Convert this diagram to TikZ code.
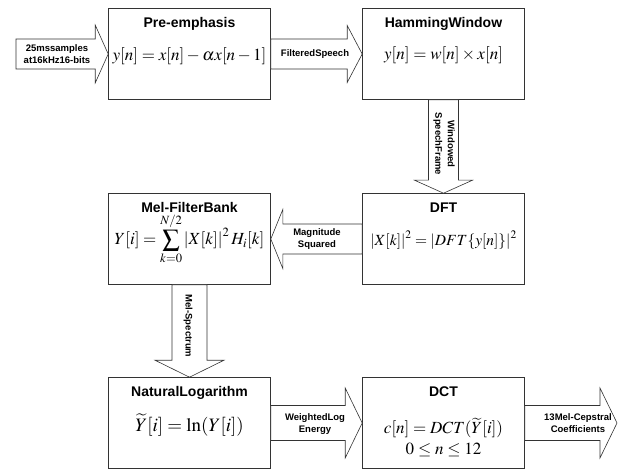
\documentclass[tikz,border=0pt]{standalone}
\usepackage{mathptmx}
\usepackage{fontspec}
\setmainfont{Liberation Serif}
\setsansfont{Liberation Sans}
\usetikzlibrary{calc}

\begin{document}
\begin{tikzpicture}[x=1pt,y=-1pt,
	box/.style={rectangle,draw=black!80,line width=.6pt,minimum width=162pt,minimum height=91pt,inner sep=0pt},
	ttl/.style={anchor=north,yshift=-9pt,inner sep=0pt,font=\fontsize{14}{16}\selectfont\sffamily\bfseries},
	eq/.style={inner sep=0pt,align=center,font=\fontsize{17}{21}\selectfont},
	lbl/.style={inner sep=0pt,align=center,font=\fontsize{9.5}{12.5}\selectfont\sffamily\bfseries},
	fat/.style n args={3}{draw=black!80,line width=.6pt,fill=white,line join=miter,
		to path={let \p1=($(\tikztotarget)!#3!(\tikztostart)$) in
			($(\tikztostart)!#1!90:(\tikztotarget)$) -- ($(\p1)!#1!-90:(\tikztostart)$)
			-- ($(\p1)!#2!-90:(\tikztostart)$) -- (\tikztotarget)
			-- ($(\p1)!#2!90:(\tikztostart)$) -- ($(\p1)!#1!90:(\tikztostart)$)
			-- ($(\tikztostart)!#1!-90:(\tikztotarget)$) -- cycle}}]
	\useasboundingbox (0,0) rectangle (626,470);
	% processing blocks
	\node [box,label={[ttl]north:Pre-emphasis}] (pre) at (189.5,54) {};
	\node [box,label={[ttl]north:HammingWindow}] (ham) at (443.5,54) {};
	\node [box,label={[ttl]north:DFT}] (dft) at (443.5,239) {};
	\node [box,label={[ttl]north:Mel-FilterBank}] (mel) at (189.5,239) {};
	\node [box,label={[ttl]north:NaturalLogarithm}] (nat) at (189.5,423) {};
	\node [box,label={[ttl]north:DCT}] (dct) at (443.5,423) {};
	% formulas
	\node [eq] (preeq) at ([yshift=-2pt]pre.center) {$y[n]=x[n]-\alpha x[n-1]$};
	\node [eq] (hameq) at ([yshift=-1pt]ham.center) {$y[n]=w[n]\times x[n]$};
	\node [eq,font=\fontsize{15.5}{19}\selectfont] (dfteq) at ([yshift=-1pt]dft.center) {$\left|X[k]\right|^2=\left|DFT\{y[n]\}\right|^2$};
	\node [eq,font=\fontsize{17}{21}\selectfont] (meleq) at ([yshift=0pt]mel.center) {$Y[i]=\displaystyle\sum_{k=0}^{N/2}\left|X[k]\right|^2H_i[k]$};
	\node [eq,font=\fontsize{19}{23}\selectfont] (nateq) at ([yshift=-2pt]nat.center) {$\widetilde{Y}[i]=\ln(Y[i])$};
	\node [eq,font=\fontsize{17}{21}\selectfont] (dcteq) at ([yshift=-14.5pt]dct.center) {$c[n]=DCT(\widetilde{Y}[i])$\\$0\le n\le 12$};
	% block arrows
	\coordinate (in) at (16,54);
	\coordinate (out) at (617,423);
	\draw [fat={15pt}{29pt}{13pt}] (in) to (pre.west);
	\draw [fat={15pt}{28.5pt}{15pt}] (pre.east) to (ham.west);
	\draw [fat={15pt}{29pt}{13pt}] (ham.south) to (dft.north);
	\draw [fat={15pt}{29.5pt}{12pt}] (dft.west) to (mel.east);
	\draw [fat={17.5pt}{34.5pt}{17pt}] (mel.south) to (nat.north);
	\draw [fat={17.5pt}{35pt}{17pt}] (nat.east) to (dct.west);
	\draw [fat={17.5pt}{35pt}{17pt}] (dct.east) to (out);
	% arrow texts
	\node [lbl] (inlbl) at (57,54) {25mssamples\\at16kHz16-bits};
	\node [lbl] (fslbl) at (315,54) {FilteredSpeech};
	\node [lbl,rotate=-90] (wslbl) at (444,144) {Windowed\\SpeechFrame};
	\node [lbl] (mslbl) at (317,239) {Magnitude\\Squared};
	\node [lbl,rotate=-90] (mellbl) at (188,326) {Mel-Spectrum};
	\node [lbl] (wllbl) at (315,424) {WeightedLog\\Energy};
	\node [lbl] (cclbl) at (578,423) {13Mel-Cepstral\\Coefficients};
\end{tikzpicture}
\end{document}
